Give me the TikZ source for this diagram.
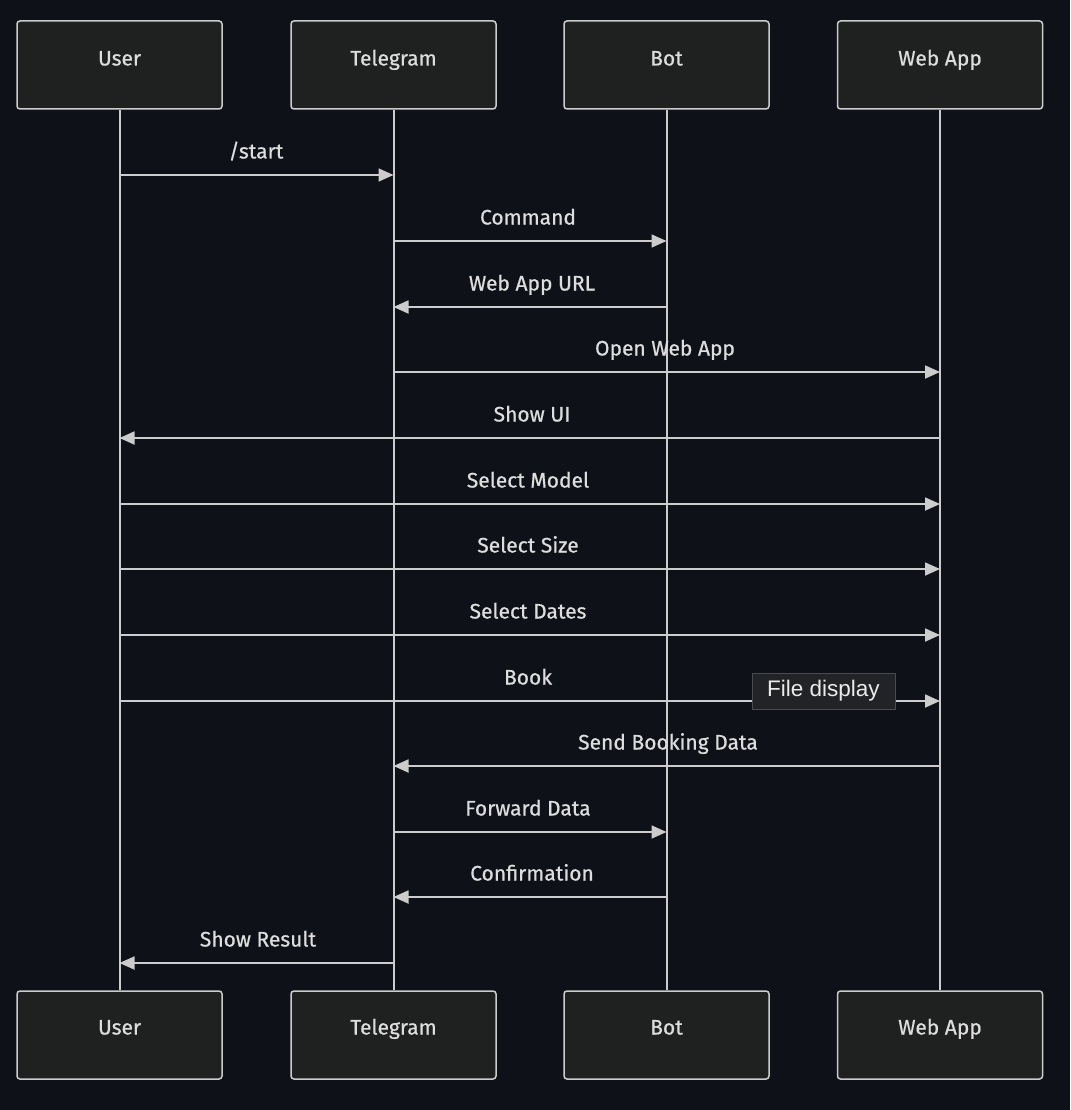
\documentclass[tikz,border=0pt]{standalone}
\usepackage{fontspec}
\setmainfont{Fira Sans}[FakeBold=0.6,BoldFont=Fira Sans]
\newfontfamily\labelfont{Fira Sans}[FakeBold=0.6]
\newfontfamily\tipfont{Liberation Sans}
\usetikzlibrary{arrows.meta}
\definecolor{bg}{HTML}{0E1117}
\definecolor{boxfill}{HTML}{1F2020}
\definecolor{linec}{HTML}{CCCCCC}
\definecolor{txt}{HTML}{DDDDDD}
\definecolor{tipfill}{HTML}{222326}
\definecolor{tipborder}{HTML}{4A4B4E}
\tikzset{
  actor/.style={draw=linec, line width=1.5pt, fill=boxfill, rounded corners=3pt,
    minimum width=205pt, minimum height=88pt, inner sep=0pt},
  actortext/.style={text=txt, font=\labelfont\fontsize{21}{25}\selectfont, inner sep=0pt, anchor=base},
  life/.style={draw=linec, line width=2pt},
  msg/.style={draw=linec, line width=1.8pt, -{Triangle[length=15pt,width=13pt]}},
  lbl/.style={text=txt, font=\labelfont\fontsize{21}{25}\selectfont, inner sep=0pt},
}
\begin{document}
\begin{tikzpicture}[x=1pt,y=-1pt]
\fill[bg] (0,0) rectangle (1070,1110);
\useasboundingbox (0,0) rectangle (1070,1110);
% top and bottom actors
\foreach \n/\x/\t in {u/119.5/User, t/393.5/Telegram, b/666.5/Bot, w/940/Web App}{
  \node[actor] (\n1) at (\x,65) {};
  \node[actortext] (\n1l) at (\x,65.5) {\t};
  \node[actor] (\n2) at (\x,1035) {};
  \node[actortext] (\n2l) at (\x,1034.5) {\t};
}
% lifelines
\foreach \n in {u,t,b,w}{
  \draw[life] (\n1.south) -- (\n2.north);
}
% message points on lifelines
\foreach \n in {u,t,b,w}{
  \foreach \i/\y in {1/175,2/241,3/307,4/372,5/438,6/504,7/569,8/635,9/701,10/766,11/832,12/897,13/963}{
    \coordinate (\n m\i) at (\n1.south |- 0,\y);
  }
}
% messages
\foreach \a/\b/\i/\lx/\t in {
  u/t/1/256/{/start},
  t/b/2/528/Command,
  b/t/3/532/Web App URL,
  t/w/4/665/Open Web App,
  w/u/5/532/Show UI,
  u/w/6/528/Select Model,
  u/w/7/528/Select Size,
  u/w/8/528/Select Dates,
  u/w/9/528/Book,
  w/t/10/668/Send Booking Data,
  t/b/11/528/Forward Data,
  b/t/12/532/Confirmation,
  t/u/13/258/Show Result}{
  \draw[msg] (\a m\i) -- (\b m\i);
  \node[lbl, anchor=base] (l\i) at ([yshift=16.5pt]\a m\i -| \lx,0) {\t};
}
% tooltip
\node[draw=tipborder, fill=tipfill, line width=1pt, text=white!92!black,
  font=\tipfont\fontsize{22.5}{26}\selectfont, minimum width=143pt, minimum height=36pt,
  inner sep=0pt] (tip) at (823.5,691) {File display};
\end{tikzpicture}
\end{document}
